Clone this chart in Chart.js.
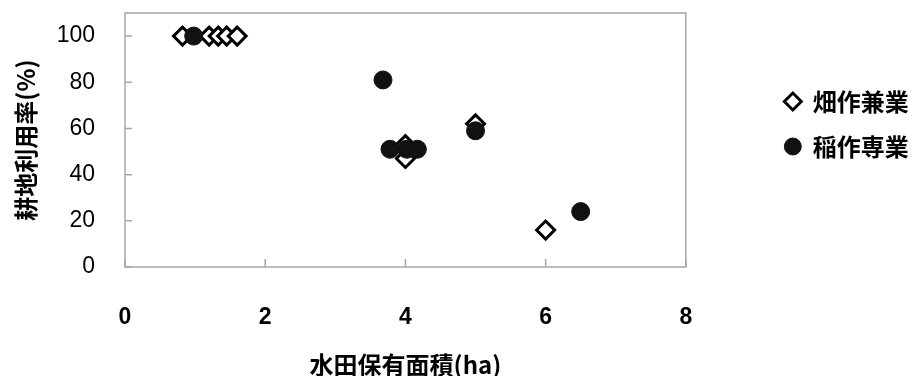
<!DOCTYPE html>
<html>
<head>
<meta charset="utf-8">
<script src="https://cdn.jsdelivr.net/npm/chart.js@4.4.1/dist/chart.umd.min.js"></script>
<style>
  html, body { margin: 0; padding: 0; background: #fff; }
  #wrap { width: 915px; height: 376px; }
</style>
</head>
<body>
<div id="wrap"><canvas id="areaChart"></canvas></div>
<script>
// series labels
const seriesNames = ['畑作兼業', '稲作専業'];

// 畑作兼業 (open diamonds)
const fieldArea = [0.82, 1.2, 1.33, 1.45, 1.6, 4.0, 4.0, 5.0, 6.0];
const fieldRate = [100, 100, 100, 100, 100, 53, 47, 62, 16];

// 稲作専業 (filled circles)
const riceArea = [0.98, 3.68, 3.78, 4.02, 4.17, 5.0, 6.5];
const riceRate = [100, 81, 51, 51, 51, 59, 24];

// axis ticks
const xTicks = [0, 2, 4, 6, 8];
const yTicks = [0, 20, 40, 60, 80, 100];

const toPoints = (xs, ys) => xs.map((x, i) => ({ x: x, y: ys[i] }));

const digitFont = '"Liberation Sans", Arial, sans-serif';
const cjkFont = '"Noto Sans CJK JP", sans-serif';

// frame + short inner tick marks, like the original spreadsheet chart
const frameTicks = {
  id: 'frameTicks',
  beforeDatasetsDraw(chart) {
    const { ctx, chartArea: a, scales } = chart;
    ctx.save();
    ctx.strokeStyle = '#a8a8a8';
    ctx.lineWidth = 1.5;
    ctx.strokeRect(a.left, a.top, a.right - a.left, a.bottom - a.top);
    ctx.beginPath();
    scales.y.ticks.forEach(t => {
      const py = scales.y.getPixelForValue(t.value);
      ctx.moveTo(a.left, py);
      ctx.lineTo(a.left + 7, py);
    });
    scales.x.ticks.forEach(t => {
      const px = scales.x.getPixelForValue(t.value);
      ctx.moveTo(px, a.bottom);
      ctx.lineTo(px, a.bottom - 8);
    });
    ctx.stroke();
    ctx.restore();
  }
};

// lift the legend a bit so it sits above the plot centre
const legendNudge = {
  id: 'legendNudge',
  afterLayout(chart) {
    if (!chart.legend) return;
    chart.legend.top -= 16;
    chart.legend.bottom -= 16;
  }
};

const canvas = document.getElementById('areaChart');

new Chart(canvas, {
  type: 'scatter',
  data: {
    datasets: [
      {
        label: seriesNames[0],
        data: toPoints(fieldArea, fieldRate),
        pointStyle: 'rectRot',
        pointRadius: 9,
        pointHoverRadius: 9,
        backgroundColor: '#ffffff',
        pointBackgroundColor: '#ffffff',
        borderColor: '#000000',
        pointBorderColor: '#000000',
        borderWidth: 3,
        pointBorderWidth: 3,
        order: 2
      },
      {
        label: seriesNames[1],
        data: toPoints(riceArea, riceRate),
        pointStyle: 'circle',
        pointRadius: 9,
        pointHoverRadius: 9,
        backgroundColor: '#111111',
        pointBackgroundColor: '#111111',
        borderColor: '#111111',
        pointBorderColor: '#111111',
        borderWidth: 1,
        pointBorderWidth: 1,
        order: 1
      }
    ]
  },
  options: {
    responsive: true,
    maintainAspectRatio: false,
    animation: false,
    layout: {
      padding: { left: 8, right: 0, top: 13, bottom: 0 }
    },
    scales: {
      x: {
        type: 'linear',
        min: 0,
        max: 8,
        afterBuildTicks: scale => { scale.ticks = xTicks.map(v => ({ value: v })); },
        afterFit: scale => { scale.height = 109; },
        grid: { display: false, drawTicks: false },
        border: { display: false },
        ticks: {
          padding: 37,
          color: '#000',
          font: { family: digitFont, size: 23, weight: 'bold' }
        },
        title: {
          display: true,
          text: '水田保有面積(ha)',
          color: '#000',
          padding: { top: 0, bottom: -3 },
          font: { family: cjkFont, size: 24, weight: 'bold' }
        }
      },
      y: {
        type: 'linear',
        min: 0,
        max: 110,
        afterBuildTicks: scale => { scale.ticks = yTicks.map(v => ({ value: v })); },
        afterFit: scale => {
          scale.width = 117;
          scale.paddingTop = 0;
          scale.paddingBottom = 0;
        },
        grid: { display: false, drawTicks: false },
        border: { display: false },
        ticks: {
          padding: 30,
          color: '#000',
          font: { family: digitFont, size: 23 }
        },
        title: {
          display: true,
          text: '耕地利用率(%)',
          color: '#000',
          padding: { top: 3, bottom: 0 },
          font: { family: cjkFont, size: 24, weight: 'bold' }
        }
      },
      // empty spacer between plot and legend
      gap: {
        type: 'linear',
        position: 'right',
        display: true,
        min: 0,
        max: 1,
        afterFit: scale => { scale.width = 78; },
        grid: { display: false, drawTicks: false },
        border: { display: false },
        ticks: { display: false }
      }
    },
    plugins: {
      legend: {
        position: 'right',
        fullSize: false,
        labels: {
          usePointStyle: true,
          boxWidth: 16,
          boxHeight: 12,
          padding: 21,
          color: '#000',
          font: { family: cjkFont, size: 24, weight: 'bold' },
          sort: (a, b) => a.datasetIndex - b.datasetIndex
        }
      },
      tooltip: { enabled: false }
    }
  },
  plugins: [frameTicks, legendNudge]
});
</script>
</body>
</html>
